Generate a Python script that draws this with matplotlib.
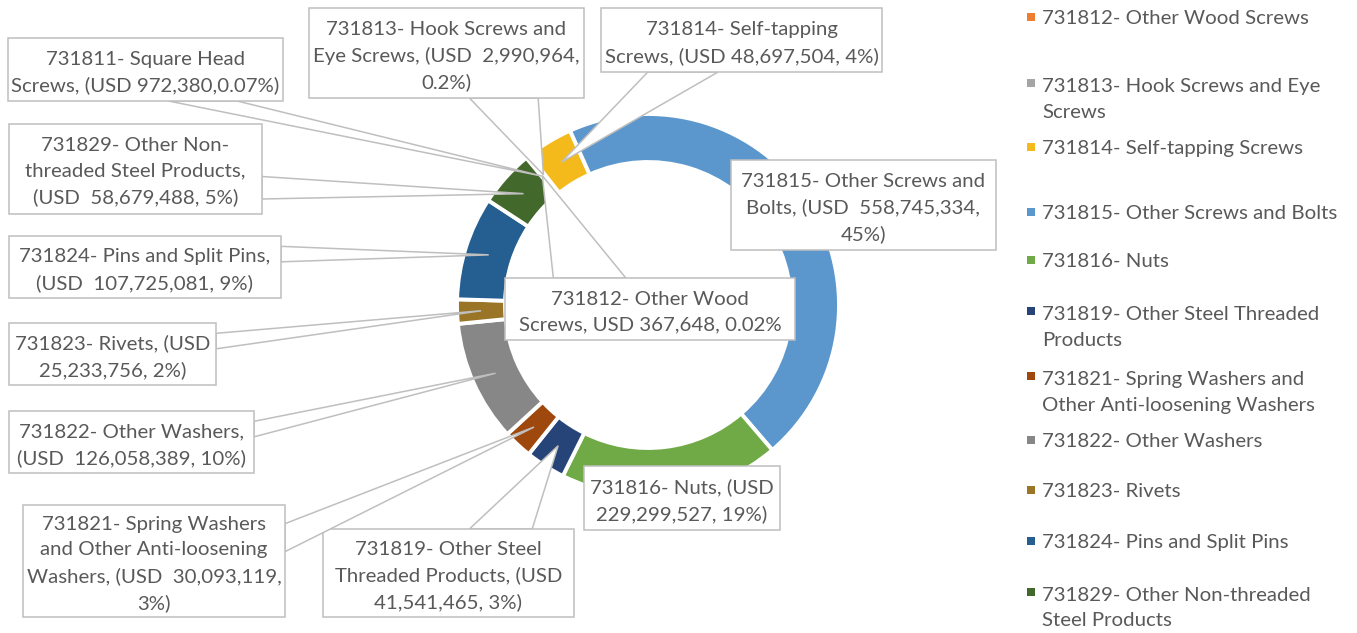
import numpy as np
import matplotlib.pyplot as plt
from matplotlib.patches import Rectangle, Polygon

plt.rcParams['font.family'] = ['Lato', 'DejaVu Sans']

# =========================================================
# DATA
# =========================================================

codes = ["731811", "731812", "731813", "731814", "731815", "731816",
         "731819", "731821", "731822", "731823", "731824", "731829"]

values_usd = [972380, 367648, 2990964, 48697504, 558745334, 229299527,
              41541465, 30093119, 126058389, 25233756, 107725081, 58679488]

colors = ["#4472C4", "#ED7D31", "#A5A5A5", "#F4BA1C", "#5B97CC", "#6FAA46",
          "#264478", "#9E480E", "#878787", "#9A7528", "#255E91", "#43682B"]

callout_texts = [
    "731811- Square Head\nScrews, (USD 972,380,0.07%)",
    "731812- Other Wood\nScrews, USD 367,648, 0.02%",
    "731813- Hook Screws and\nEye Screws, (USD  2,990,964,\n0.2%)",
    "731814- Self-tapping\nScrews, (USD 48,697,504, 4%)",
    "731815- Other Screws and\nBolts, (USD  558,745,334,\n45%)",
    "731816- Nuts, (USD\n229,299,527, 19%)",
    "731819- Other Steel\nThreaded Products, (USD\n41,541,465, 3%)",
    "731821- Spring Washers\nand Other Anti-loosening\nWashers, (USD  30,093,119,\n3%)",
    "731822- Other Washers,\n(USD  126,058,389, 10%)",
    "731823- Rivets, (USD\n25,233,756, 2%)",
    "731824- Pins and Split Pins,\n(USD  107,725,081, 9%)",
    "731829- Other Non-\nthreaded Steel Products,\n(USD  58,679,488, 5%)",
]

# legend starts at 731812 (first entry is cut off in the original)
legend_texts = [
    "731812- Other Wood Screws",
    "731813- Hook Screws and Eye\nScrews",
    "731814- Self-tapping Screws",
    "731815- Other Screws and Bolts",
    "731816- Nuts",
    "731819- Other Steel Threaded\nProducts",
    "731821- Spring Washers and\nOther Anti-loosening Washers",
    "731822- Other Washers",
    "731823- Rivets",
    "731824- Pins and Split Pins",
    "731829- Other Non-threaded\nSteel Products",
]

# =========================================================
# LAYOUT (pixels, y measured from top)
# =========================================================

W, H = 1357, 633
CENTER = (648, 305)
R_OUT = 191
RING = 48
START_ANGLE = 129.6

# callout boxes: left, top, right, bottom
boxes = [
    (8, 38, 283, 101),
    (505, 278, 795, 340),
    (309, 8, 584, 98),
    (601, 8, 882, 72),
    (731, 160, 996, 250),
    (584, 466, 780, 530),
    (323, 529, 574, 617),
    (23, 505, 285, 617),
    (9, 411, 254, 473),
    (9, 323, 216, 385),
    (9, 236, 281, 298),
    (9, 124, 262, 214),
]

legend_y = [17, 83, 147, 212, 260, 311, 376, 440, 490, 541, 592]
LEG_X = 1042
PITCH = 27.5

TEXT_COLOR = "#595959"
EDGE_COLOR = "#BFBFBF"
FS = 14.7
LS = 1.6


def tail_base(box, px, py):
    # wedge-callout tail, base on the box side facing the point
    l, t, r, b = box
    w, h = r - l, b - t
    cx, cy = (l + r) / 2, (t + b) / 2
    dx, dy = px - cx, py - cy
    if l <= px <= r and t <= py <= b:
        return None
    if abs(dx) / w > abs(dy) / h:
        x = r if dx > 0 else l
        f = (7 / 12, 10 / 12) if dy > 0 else (2 / 12, 5 / 12)
        return [(x, t + h * f[0]), (x, t + h * f[1])]
    y = b if dy > 0 else t
    f = (7 / 12, 10 / 12) if dx > 0 else (2 / 12, 5 / 12)
    return [(l + w * f[0], y), (l + w * f[1], y)]


# =========================================================
# PLOT
# =========================================================

fig = plt.figure(figsize=(W / 100, H / 100), dpi=100)
ax = fig.add_axes([0, 0, 1, 1])

wedges, _ = ax.pie(
    values_usd,
    colors=colors,
    startangle=START_ANGLE,
    counterclock=False,
    radius=R_OUT,
    center=(CENTER[0], H - CENTER[1]),
    wedgeprops=dict(width=RING, edgecolor="white", linewidth=2.8),
    frame=True,
)

ax.set_xlim(0, W)
ax.set_ylim(0, H)
ax.axis("off")

r_mid = R_OUT - RING / 2

for i, (wedge, text, box) in enumerate(zip(wedges, callout_texts, boxes)):
    theta = np.deg2rad((wedge.theta1 + wedge.theta2) / 2)
    px = CENTER[0] + r_mid * np.cos(theta)
    py = CENTER[1] - r_mid * np.sin(theta)

    z = 5 + 2 * i
    base = tail_base(box, px, py)
    if base is not None:
        pts = [(x, H - y) for x, y in [base[0], (px, py), base[1]]]
        ax.add_patch(Polygon(pts, closed=True, facecolor="white",
                             edgecolor=EDGE_COLOR, linewidth=1.1, zorder=z))

    l, t, r, b = box
    ax.add_patch(Rectangle((l, H - b), r - l, b - t, facecolor="white",
                           edgecolor=EDGE_COLOR, linewidth=1.1, zorder=z + 1))
    ax.text((l + r) / 2, H - (t + b) / 2 - 3, text, ha="center", va="center",
            multialignment="center", fontsize=FS, color=TEXT_COLOR,
            linespacing=LS, zorder=z + 1)

# legend (baseline of the last line is placed, first line sits at legend_y)
for text, color, y in zip(legend_texts, colors[1:], legend_y):
    ax.add_patch(Rectangle((LEG_X - 15, H - y - 4), 8, 8, facecolor=color,
                           edgecolor="none"))
    n_extra = text.count("\n")
    ax.text(LEG_X, H - (y + 7 + n_extra * PITCH), text, ha="left",
            va="baseline", fontsize=FS, color=TEXT_COLOR, linespacing=LS)

plt.savefig("out.png", dpi=100)
